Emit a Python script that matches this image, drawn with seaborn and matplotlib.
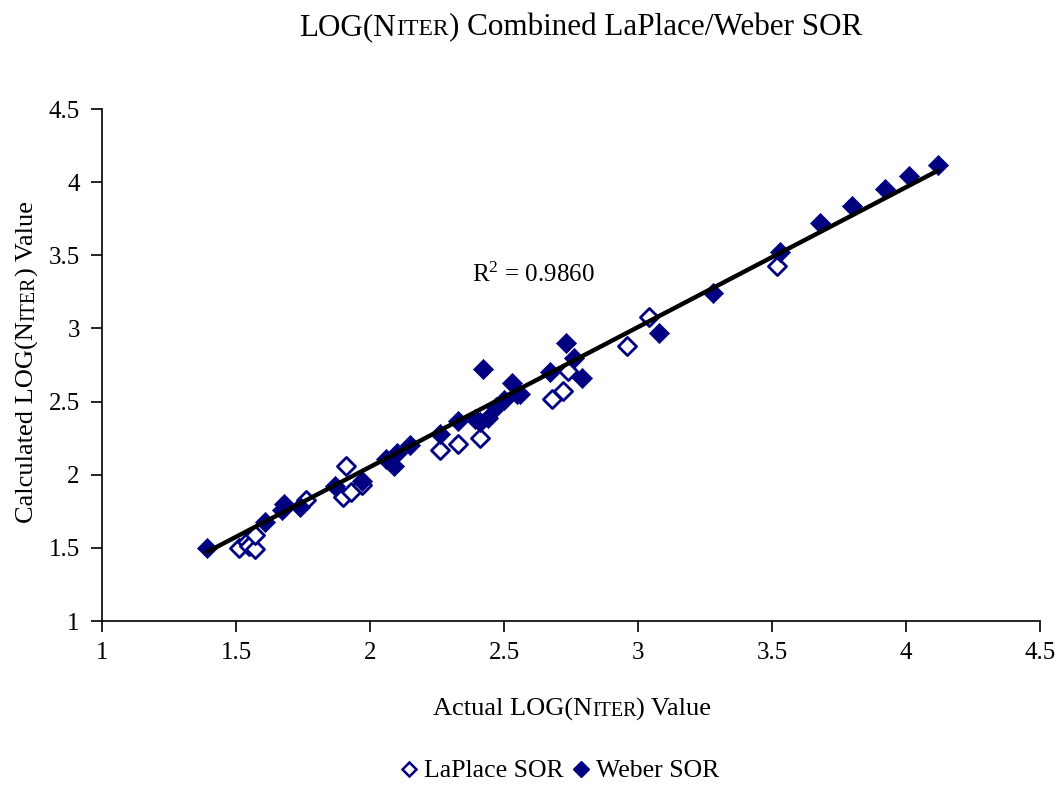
import numpy as np
import pandas as pd
import matplotlib
matplotlib.use("Agg")
import matplotlib.pyplot as plt
import seaborn as sns
from matplotlib.transforms import IdentityTransform
from matplotlib.lines import Line2D

# ---------------- data ----------------
laplace_x = [1.51, 1.54, 1.55, 1.57, 1.57, 1.76, 1.90, 1.91, 1.93, 1.97,
             2.26, 2.33, 2.41, 2.68, 2.72, 2.74, 2.96, 3.04, 3.52]
laplace_y = [1.50, 1.54, 1.51, 1.49, 1.59, 1.83, 1.85, 2.06, 1.88, 1.93,
             2.17, 2.21, 2.25, 2.52, 2.57, 2.71, 2.88, 3.08, 3.43]
weber_x = [1.39, 1.61, 1.67, 1.68, 1.74, 1.87, 1.97, 2.06, 2.09, 2.10,
           2.15, 2.26, 2.33, 2.39, 2.41, 2.42, 2.44, 2.47, 2.50, 2.53,
           2.55, 2.56, 2.67, 2.73, 2.76, 2.79, 3.08, 3.28, 3.53, 3.68,
           3.80, 3.92, 4.01, 4.12]
weber_y = [1.50, 1.68, 1.76, 1.80, 1.78, 1.92, 1.96, 2.11, 2.06, 2.15,
           2.20, 2.28, 2.37, 2.38, 2.36, 2.72, 2.39, 2.46, 2.51, 2.63,
           2.55, 2.55, 2.70, 2.90, 2.80, 2.66, 2.97, 3.24, 3.52, 3.72,
           3.84, 3.95, 4.04, 4.12]
fit_x = [1.39, 4.12]
fit_y = [1.47, 4.08]
r2_label = r"R$^{\mathrm{2}}$ = 0.9860"
series_names = ["LaPlace SOR", "Weber SOR"]
axis_ticks = [1, 1.5, 2, 2.5, 3, 3.5, 4, 4.5]
axis_tick_labels = ["1", "1.5", "2", "2.5", "3", "3.5", "4", "4.5"]
title_parts = [("LOG(N", 1.0), ("ITER", 0.76), (") Combined LaPlace/Weber SOR", 1.0)]
xlabel_parts = [("Actual LOG(N", 1.0), ("ITER", 0.76), (") Value", 1.0)]
ylabel_parts = [("Calculated LOG(N", 1.0), ("ITER", 0.76), (") Value", 1.0)]

# ---------------- style ----------------
sns.set_theme(style="white")
SERIF = ["Liberation Serif", "DejaVu Serif"]
plt.rcParams["font.family"] = SERIF
plt.rcParams["text.color"] = "black"
plt.rcParams["mathtext.fontset"] = "custom"
plt.rcParams["mathtext.rm"] = "Liberation Serif"
plt.rcParams["mathtext.it"] = "Liberation Serif:italic"
plt.rcParams["mathtext.bf"] = "Liberation Serif:bold"
NAVY = "#000080"

W, H = 1061, 785
fig = plt.figure(figsize=(W / 100, H / 100), dpi=100)
ax = fig.add_axes([102 / W, 1 - 621 / H, (1040 - 102) / W, (621 - 109) / H])

df_l = pd.DataFrame({"x": laplace_x, "y": laplace_y})
df_w = pd.DataFrame({"x": weber_x, "y": weber_y})
df_f = pd.DataFrame({"x": fit_x, "y": fit_y})

sns.scatterplot(data=df_l, x="x", y="y", ax=ax, marker="D", s=85,
                facecolor="white", edgecolor=NAVY, linewidth=2, zorder=3)
sns.scatterplot(data=df_w, x="x", y="y", ax=ax, marker="D", s=105,
                color=NAVY, edgecolor=NAVY, linewidth=0.5, zorder=3)
sns.lineplot(data=df_f, x="x", y="y", ax=ax, color="black", linewidth=3.2,
             zorder=4)

ax.set_xlim(1, 4.5)
ax.set_ylim(1, 4.5)
ax.set_xticks(axis_ticks)
ax.set_yticks(axis_ticks)
ax.set_xticklabels(axis_tick_labels)
ax.set_yticklabels(axis_tick_labels)
ax.tick_params(axis="both", which="major", direction="out", length=8,
               width=1.2, color="black", labelsize=18, labelcolor="black",
               left=True, bottom=True)
ax.tick_params(axis="y", pad=8)
ax.tick_params(axis="x", pad=7)
for lab in ax.get_xticklabels() + ax.get_yticklabels():
    lab.set_family(SERIF)
for side in ["top", "right"]:
    ax.spines[side].set_visible(False)
for side in ["left", "bottom"]:
    ax.spines[side].set_color("black")
    ax.spines[side].set_linewidth(1.2)
ax.set_xlabel("")
ax.set_ylabel("")
ax.grid(False)

ax.text(2.38, 3.365, r2_label, fontsize=18, family=SERIF, ha="left",
        va="center", color="black")

# ---------------- small caps texts ----------------
renderer = fig.canvas.get_renderer()


def small_caps(parts, center, baseline, size, rotation=0):
    texts = []
    for s, scale in parts:
        t = fig.text(0, 0, s, fontsize=size * scale, family=SERIF,
                     transform=IdentityTransform(), rotation=rotation,
                     rotation_mode="anchor", ha="left", va="baseline",
                     color="black")
        texts.append(t)
    lengths = []
    for t in texts:
        bb = t.get_window_extent(renderer)
        lengths.append(bb.height if rotation == 90 else bb.width)
    total = sum(lengths)
    pos = center - total / 2
    for t, L in zip(texts, lengths):
        if rotation == 90:
            t.set_position((baseline, pos))
        else:
            t.set_position((pos, baseline))
        pos += L


small_caps(title_parts, 581, H - 35, 22.4)
small_caps(xlabel_parts, 572, H - 716, 19)
small_caps(ylabel_parts, H - 362, 34, 19, rotation=90)

# ---------------- legend ----------------
handles = [
    Line2D([], [], marker="D", linestyle="none", markersize=7,
           markerfacecolor="white", markeredgecolor=NAVY, markeredgewidth=1.8),
    Line2D([], [], marker="D", linestyle="none", markersize=8,
           markerfacecolor=NAVY, markeredgecolor=NAVY),
]
leg = fig.legend(handles, series_names, loc="center", ncol=2,
                 bbox_to_anchor=(559 / W, 1 - 771 / H), frameon=False,
                 prop={"family": SERIF, "size": 18.5}, handlelength=0.8,
                 handletextpad=0.2, columnspacing=0.25)
for t in leg.get_texts():
    t.set_color("black")

fig.savefig("out.png", dpi=100)
